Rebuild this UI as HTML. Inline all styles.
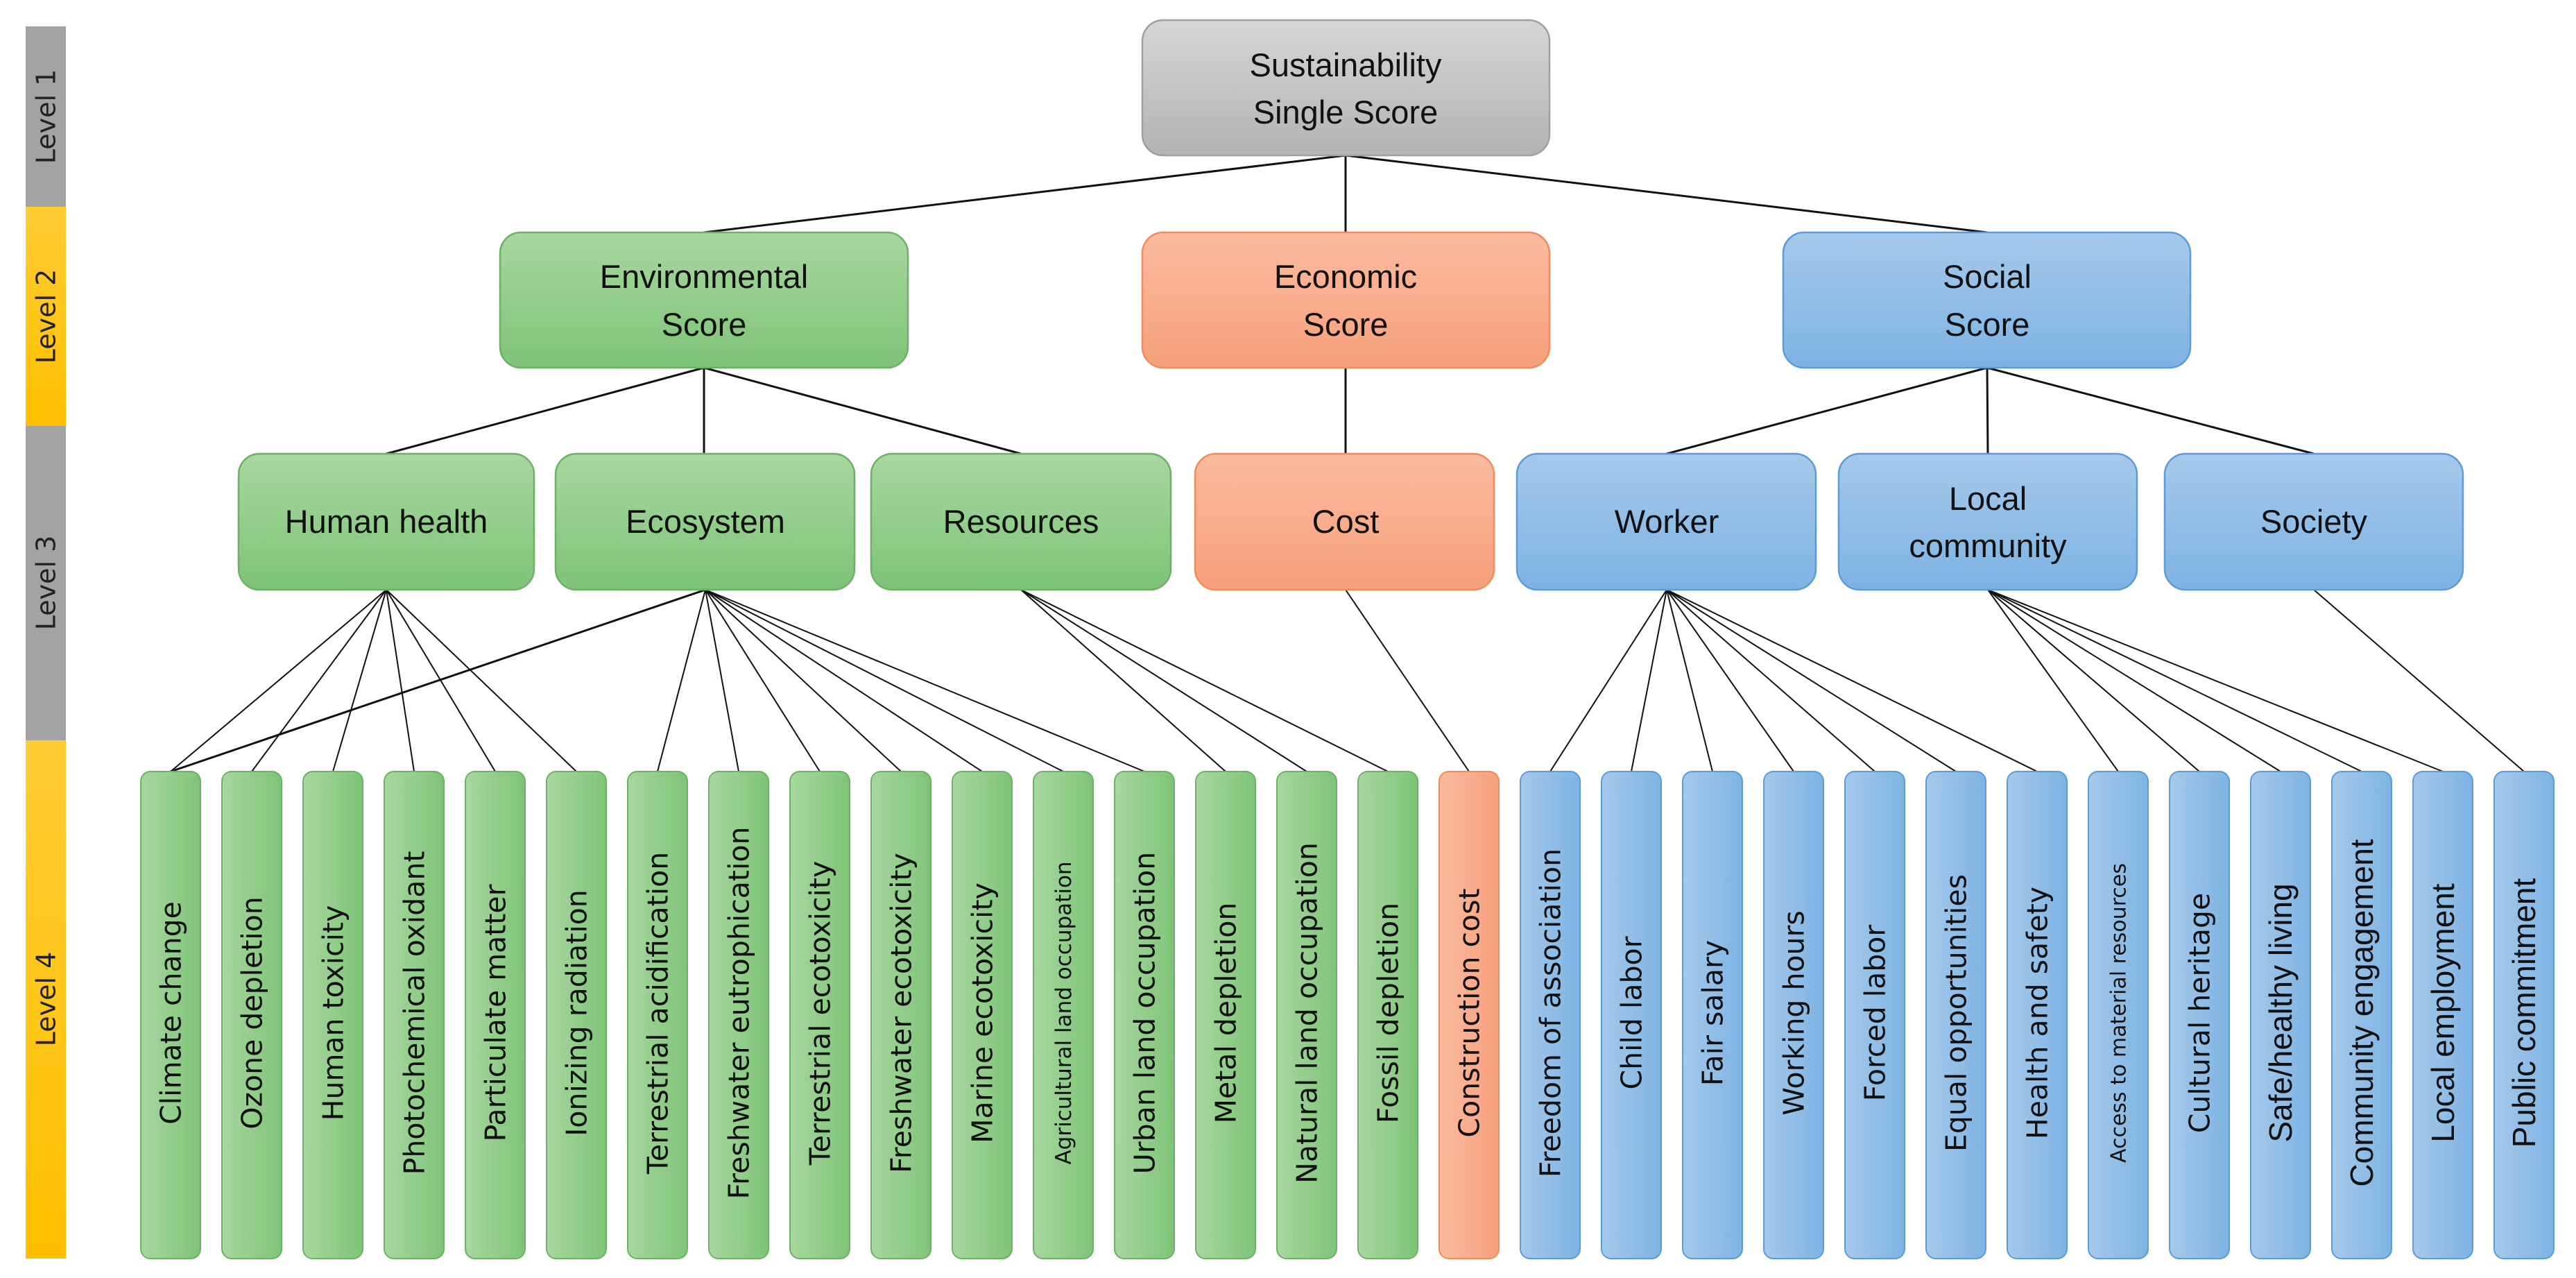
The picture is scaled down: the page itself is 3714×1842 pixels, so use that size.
<!DOCTYPE html>
<html><head><meta charset="utf-8"><style>html,body{margin:0;padding:0;background:#fff}svg{display:block}</style></head>
<body>
<svg width="3714" height="1842" viewBox="0 0 3714 1842" xmlns="http://www.w3.org/2000/svg">
<defs>
<linearGradient id="gr" x1="0" y1="0" x2="0" y2="1"><stop offset="0" stop-color="#a9d7a0"/><stop offset="1" stop-color="#7dc477"/></linearGradient>
<linearGradient id="or" x1="0" y1="0" x2="0" y2="1"><stop offset="0" stop-color="#fbbb9e"/><stop offset="1" stop-color="#f6a07c"/></linearGradient>
<linearGradient id="bl" x1="0" y1="0" x2="0" y2="1"><stop offset="0" stop-color="#a6c9eb"/><stop offset="1" stop-color="#7db3e3"/></linearGradient>
<linearGradient id="gy" x1="0" y1="0" x2="0" y2="1"><stop offset="0" stop-color="#d6d6d6"/><stop offset="1" stop-color="#b3b3b3"/></linearGradient>
<linearGradient id="grh" x1="0" y1="0" x2="1" y2="0"><stop offset="0" stop-color="#a9d7a0"/><stop offset="1" stop-color="#7dc477"/></linearGradient>
<linearGradient id="orh" x1="0" y1="0" x2="1" y2="0"><stop offset="0" stop-color="#fbbb9e"/><stop offset="1" stop-color="#f6a07c"/></linearGradient>
<linearGradient id="blh" x1="0" y1="0" x2="1" y2="0"><stop offset="0" stop-color="#a6c9eb"/><stop offset="1" stop-color="#7db3e3"/></linearGradient>
<linearGradient id="yl" x1="0" y1="0" x2="0" y2="1"><stop offset="0" stop-color="#ffcc33"/><stop offset="1" stop-color="#ffbf00"/></linearGradient>
</defs>

<rect x="37" y="38" width="58" height="260" fill="#a3a3a3"/>
<rect x="37" y="298" width="58" height="316" fill="url(#yl)"/>
<rect x="37" y="614" width="58" height="453" fill="#a3a3a3"/>
<rect x="37" y="1067" width="58" height="747" fill="url(#yl)"/>
<g font-family="DejaVu Sans, sans-serif" font-size="38" fill="#222" text-anchor="middle">
<text transform="translate(66,168) rotate(-90)" dy="0.35em">Level 1</text>
<text transform="translate(66,456) rotate(-90)" dy="0.35em">Level 2</text>
<text transform="translate(66,840) rotate(-90)" dy="0.35em">Level 3</text>
<text transform="translate(66,1440) rotate(-90)" dy="0.35em">Level 4</text>
</g>

<g stroke="#111" stroke-width="3" fill="none">
<line x1="1940" y1="224" x2="1015" y2="335"/>
<line x1="1940" y1="224" x2="1940" y2="335"/>
<line x1="1940" y1="224" x2="2865" y2="335"/>
<line x1="1015" y1="530" x2="557" y2="654"/>
<line x1="1015" y1="530" x2="1015" y2="654"/>
<line x1="1015" y1="530" x2="1472" y2="654"/>
<line x1="1940" y1="530" x2="1940" y2="654"/>
<line x1="2865" y1="530" x2="2403" y2="654"/>
<line x1="2865" y1="530" x2="2866" y2="654"/>
<line x1="2865" y1="530" x2="3336" y2="654"/>
</g>
<g stroke="#111" stroke-width="2" fill="none">
<line x1="557" y1="850" x2="246" y2="1112"/>
<line x1="557" y1="850" x2="363" y2="1112"/>
<line x1="557" y1="850" x2="480" y2="1112"/>
<line x1="557" y1="850" x2="597" y2="1112"/>
<line x1="557" y1="850" x2="714" y2="1112"/>
<line x1="557" y1="850" x2="831" y2="1112"/>
<line x1="1017" y1="850" x2="246" y2="1112" stroke-width="3"/>
<line x1="1017" y1="850" x2="948" y2="1112"/>
<line x1="1017" y1="850" x2="1065" y2="1112"/>
<line x1="1017" y1="850" x2="1182" y2="1112"/>
<line x1="1017" y1="850" x2="1299" y2="1112"/>
<line x1="1017" y1="850" x2="1416" y2="1112"/>
<line x1="1017" y1="850" x2="1533" y2="1112"/>
<line x1="1017" y1="850" x2="1650" y2="1112"/>
<line x1="1472" y1="850" x2="1767" y2="1112"/>
<line x1="1472" y1="850" x2="1884" y2="1112"/>
<line x1="1472" y1="850" x2="2001" y2="1112"/>
<line x1="1940" y1="850" x2="2118" y2="1112"/>
<line x1="2403" y1="850" x2="2235" y2="1112"/>
<line x1="2403" y1="850" x2="2352" y2="1112"/>
<line x1="2403" y1="850" x2="2469" y2="1112"/>
<line x1="2403" y1="850" x2="2586" y2="1112"/>
<line x1="2403" y1="850" x2="2703" y2="1112"/>
<line x1="2403" y1="850" x2="2820" y2="1112"/>
<line x1="2403" y1="850" x2="2937" y2="1112"/>
<line x1="2866" y1="850" x2="3054" y2="1112"/>
<line x1="2866" y1="850" x2="3171" y2="1112"/>
<line x1="2866" y1="850" x2="3288" y2="1112"/>
<line x1="2866" y1="850" x2="3405" y2="1112"/>
<line x1="2866" y1="850" x2="3522" y2="1112"/>
<line x1="3336" y1="850" x2="3639" y2="1112"/>
</g>

<g stroke-width="2.5">
<rect x="1647" y="29" width="587" height="195" rx="30" fill="url(#gy)" stroke="#a0a0a0"/>
<rect x="721" y="335" width="588" height="195" rx="30" fill="url(#gr)" stroke="#6fb067"/>
<rect x="1647" y="335" width="587" height="195" rx="30" fill="url(#or)" stroke="#f28a5c"/>
<rect x="2571" y="335" width="587" height="195" rx="30" fill="url(#bl)" stroke="#5c9bd5"/>
<rect x="344" y="654" width="426" height="196" rx="30" fill="url(#gr)" stroke="#6fb067"/>
<rect x="801" y="654" width="431" height="196" rx="30" fill="url(#gr)" stroke="#6fb067"/>
<rect x="1256" y="654" width="432" height="196" rx="30" fill="url(#gr)" stroke="#6fb067"/>
<rect x="1723" y="654" width="431" height="196" rx="30" fill="url(#or)" stroke="#f28a5c"/>
<rect x="2187" y="654" width="431" height="196" rx="30" fill="url(#bl)" stroke="#5c9bd5"/>
<rect x="2651" y="654" width="430" height="196" rx="30" fill="url(#bl)" stroke="#5c9bd5"/>
<rect x="3121" y="654" width="430" height="196" rx="30" fill="url(#bl)" stroke="#5c9bd5"/>
</g>
<g font-family="Liberation Sans, sans-serif" font-size="47" fill="#111" text-anchor="middle">
<text x="1940" y="110">Sustainability</text>
<text x="1940" y="178">Single Score</text>
<text x="1015" y="415">Environmental</text>
<text x="1015" y="484">Score</text>
<text x="1940" y="415">Economic</text>
<text x="1940" y="484">Score</text>
<text x="2865" y="415">Social</text>
<text x="2865" y="484">Score</text>
<text x="557" y="768">Human health</text>
<text x="1017" y="768">Ecosystem</text>
<text x="1472" y="768">Resources</text>
<text x="1940" y="768">Cost</text>
<text x="2403" y="768">Worker</text>
<text x="2866" y="735">Local</text>
<text x="2866" y="803">community</text>
<text x="3336" y="768">Society</text>
</g>

<g stroke-width="2">
<g fill="url(#grh)" stroke="#6fb067">
<rect x="203" y="1112" width="86" height="702" rx="14"/>
<rect x="320" y="1112" width="86" height="702" rx="14"/>
<rect x="437" y="1112" width="86" height="702" rx="14"/>
<rect x="554" y="1112" width="86" height="702" rx="14"/>
<rect x="671" y="1112" width="86" height="702" rx="14"/>
<rect x="788" y="1112" width="86" height="702" rx="14"/>
<rect x="905" y="1112" width="86" height="702" rx="14"/>
<rect x="1022" y="1112" width="86" height="702" rx="14"/>
<rect x="1139" y="1112" width="86" height="702" rx="14"/>
<rect x="1256" y="1112" width="86" height="702" rx="14"/>
<rect x="1373" y="1112" width="86" height="702" rx="14"/>
<rect x="1490" y="1112" width="86" height="702" rx="14"/>
<rect x="1607" y="1112" width="86" height="702" rx="14"/>
<rect x="1724" y="1112" width="86" height="702" rx="14"/>
<rect x="1841" y="1112" width="86" height="702" rx="14"/>
<rect x="1958" y="1112" width="86" height="702" rx="14"/>
</g>
<rect x="2075" y="1112" width="86" height="702" rx="14" fill="url(#orh)" stroke="#f28a5c"/>
<g fill="url(#blh)" stroke="#5c9bd5">
<rect x="2192" y="1112" width="86" height="702" rx="14"/>
<rect x="2309" y="1112" width="86" height="702" rx="14"/>
<rect x="2426" y="1112" width="86" height="702" rx="14"/>
<rect x="2543" y="1112" width="86" height="702" rx="14"/>
<rect x="2660" y="1112" width="86" height="702" rx="14"/>
<rect x="2777" y="1112" width="86" height="702" rx="14"/>
<rect x="2894" y="1112" width="86" height="702" rx="14"/>
<rect x="3011" y="1112" width="86" height="702" rx="14"/>
<rect x="3128" y="1112" width="86" height="702" rx="14"/>
<rect x="3245" y="1112" width="86" height="702" rx="14"/>
<rect x="3362" y="1112" width="86" height="702" rx="14"/>
<rect x="3479" y="1112" width="86" height="702" rx="14"/>
<rect x="3596" y="1112" width="86" height="702" rx="14"/>
</g>
</g>

<g font-family="DejaVu Sans, sans-serif" font-size="41" fill="#111" text-anchor="middle">
<text transform="translate(246,1460) rotate(-90)" dy="0.35em">Climate change</text>
<text transform="translate(363,1460) rotate(-90)" dy="0.35em">Ozone depletion</text>
<text transform="translate(480,1460) rotate(-90)" dy="0.35em">Human toxicity</text>
<text transform="translate(597,1460) rotate(-90)" dy="0.35em">Photochemical oxidant</text>
<text transform="translate(714,1460) rotate(-90)" dy="0.35em">Particulate matter</text>
<text transform="translate(831,1460) rotate(-90)" dy="0.35em">Ionizing radiation</text>
<text transform="translate(948,1460) rotate(-90)" dy="0.35em">Terrestrial acidification</text>
<text transform="translate(1065,1460) rotate(-90)" dy="0.35em">Freshwater eutrophication</text>
<text transform="translate(1182,1460) rotate(-90)" dy="0.35em">Terrestrial ecotoxicity</text>
<text transform="translate(1299,1460) rotate(-90)" dy="0.35em">Freshwater ecotoxicity</text>
<text transform="translate(1416,1460) rotate(-90)" dy="0.35em">Marine ecotoxicity</text>
<text transform="translate(1533,1460) rotate(-90)" dy="0.35em" font-size="31">Agricultural land occupation</text>
<text transform="translate(1650,1460) rotate(-90)" dy="0.35em">Urban land occupation</text>
<text transform="translate(1767,1460) rotate(-90)" dy="0.35em">Metal depletion</text>
<text transform="translate(1884,1460) rotate(-90)" dy="0.35em">Natural land occupation</text>
<text transform="translate(2001,1460) rotate(-90)" dy="0.35em">Fossil depletion</text>
<text transform="translate(2118,1460) rotate(-90)" dy="0.35em">Construction cost</text>
<text transform="translate(2235,1460) rotate(-90)" dy="0.35em">Freedom of association</text>
<text transform="translate(2352,1460) rotate(-90)" dy="0.35em">Child labor</text>
<text transform="translate(2469,1460) rotate(-90)" dy="0.35em">Fair salary</text>
<text transform="translate(2586,1460) rotate(-90)" dy="0.35em">Working hours</text>
<text transform="translate(2703,1460) rotate(-90)" dy="0.35em">Forced labor</text>
<text transform="translate(2820,1460) rotate(-90)" dy="0.35em">Equal opportunities</text>
<text transform="translate(2937,1460) rotate(-90)" dy="0.35em">Health and safety</text>
<text transform="translate(3054,1460) rotate(-90)" dy="0.35em" font-size="30">Access to material resources</text>
<text transform="translate(3171,1460) rotate(-90)" dy="0.35em">Cultural heritage</text>
</g>
<g font-family="Liberation Sans, sans-serif" font-size="46" fill="#111" text-anchor="middle">
<text transform="translate(3288,1460) rotate(-90)" dy="0.35em">Safe/healthy living</text>
<text transform="translate(3405,1460) rotate(-90)" dy="0.35em">Community engagement</text>
<text transform="translate(3522,1460) rotate(-90)" dy="0.35em">Local employment</text>
<text transform="translate(3639,1460) rotate(-90)" dy="0.35em">Public commitment</text>
</g>
</svg>
</body></html>
